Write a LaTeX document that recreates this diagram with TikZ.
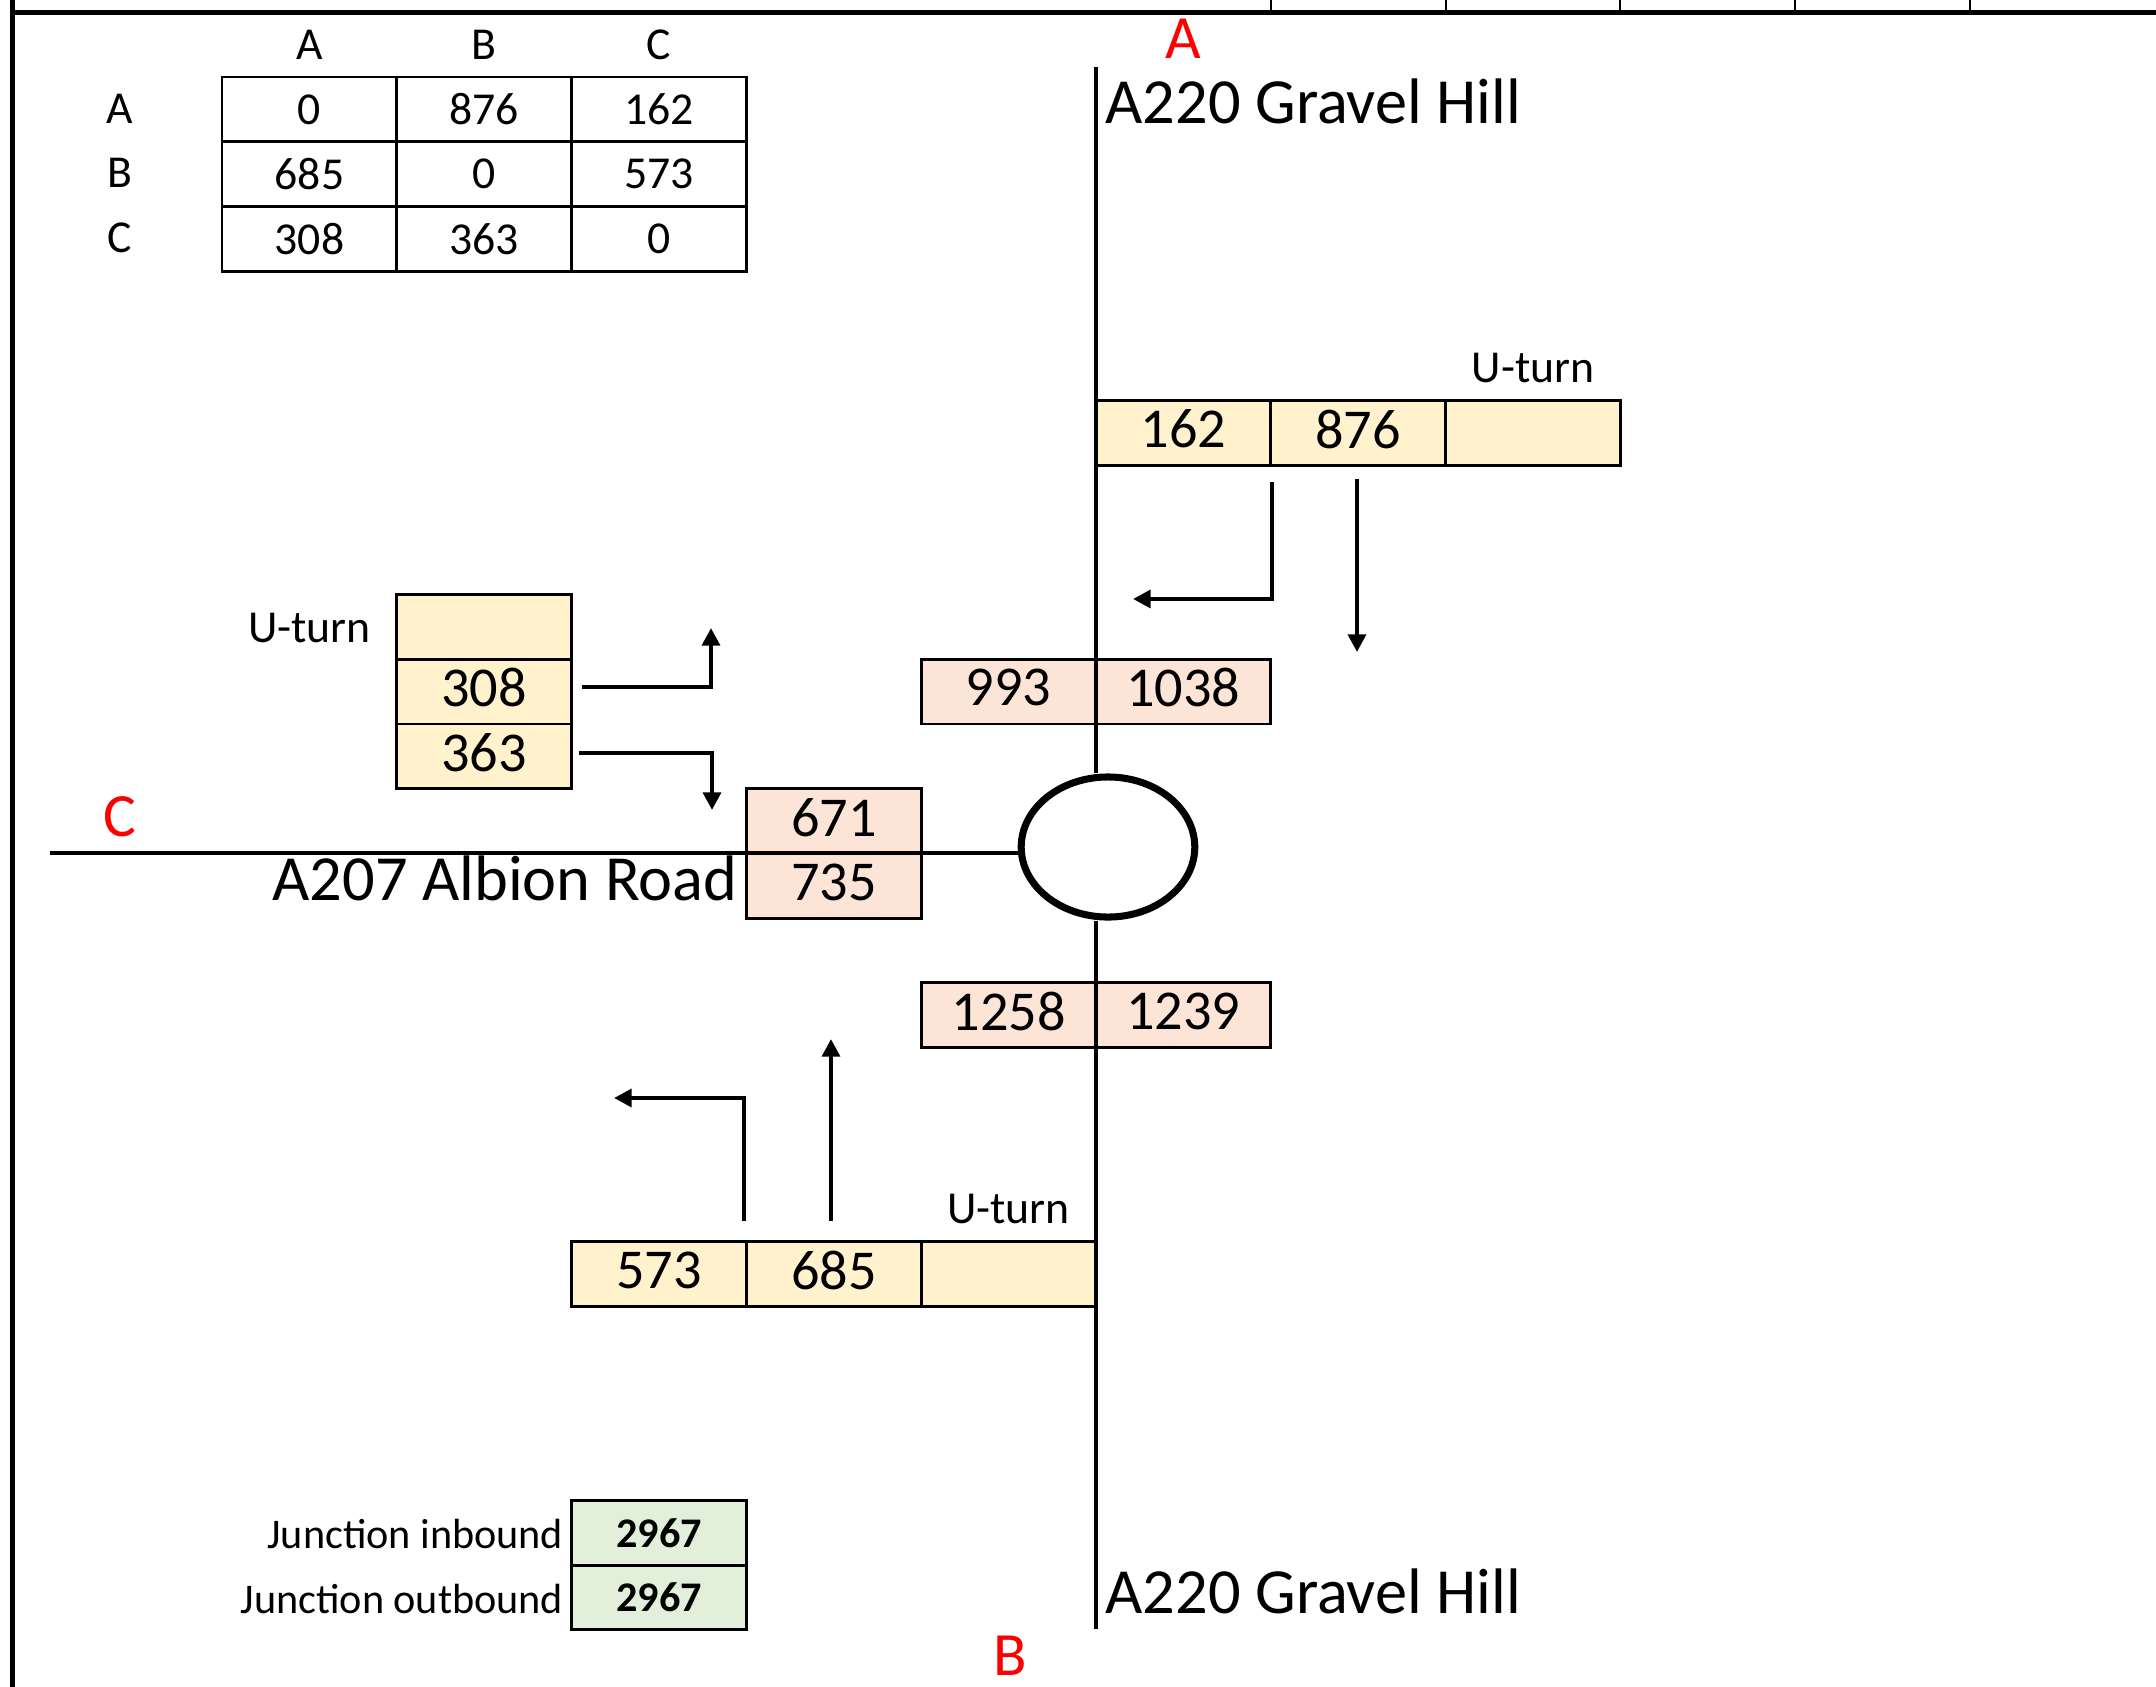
\documentclass[tikz,border=0pt]{standalone}
\usepackage{fontspec}
\setmainfont{Carlito}
\usetikzlibrary{arrows.meta,shapes.geometric}
\definecolor{laneyellow}{HTML}{FFF2CC}
\definecolor{lanepink}{HTML}{FCE4D6}
\definecolor{totalgreen}{HTML}{E2EFDA}

\begin{document}
\begin{tikzpicture}[x=0.01cm,y=-0.01cm,>={Triangle[length=5pt,width=5pt]},
  cell/.style={draw,line width=0.8pt,minimum width=1.748cm,minimum height=0.647cm,inner sep=0pt,font=\fontsize{13}{15}\selectfont},
  lane/.style={cell,fill=laneyellow,text depth=2.3pt,font=\fontsize{16}{19}\selectfont},
  flow/.style={cell,fill=lanepink,text depth=2.3pt,font=\fontsize{16}{19}\selectfont},
  total/.style={cell,fill=totalgreen,font=\fontsize{12}{14}\selectfont\bfseries},
  lbl/.style={inner sep=0pt,anchor=base,font=\fontsize{13}{15}\selectfont},
  road/.style={inner sep=0pt,font=\fontsize{18.3}{21}\selectfont},
  arm/.style={inner sep=0pt,anchor=base,text=red,font=\fontsize{17.5}{21}\selectfont},
  turn/.style={->,line width=1.3pt}]
\useasboundingbox (0,0) rectangle (2156,1687);
% sheet edges
\draw[line width=1.4pt] (12.5,0) -- (12.5,1687);
\draw[line width=1.4pt] (12.5,12.5) -- (2156,12.5);
\draw[line width=0.6pt] (1270.8,0) -- (1270.8,12) (1445.6,0) -- (1445.6,12) (1620.4,0) -- (1620.4,12)
  (1795.2,0) -- (1795.2,12) (1970,0) -- (1970,12);

% origin-destination matrix
\node[lbl] (hA) at (309.4,59) {A};
\node[lbl] (hB) at (484.2,59) {B};
\node[lbl] (hC) at (659,59) {C};
\node[lbl] (rA) at (120,123) {A};
\node[lbl] (rB) at (120,187.7) {B};
\node[lbl] (rC) at (120,252.4) {C};
\node[cell] (mAA) at (309.4,109.4) {0};
\node[cell] (mAB) at (484.2,109.4) {876};
\node[cell] (mAC) at (659,109.4) {162};
\node[cell] (mBA) at (309.4,174.1) {685};
\node[cell] (mBB) at (484.2,174.1) {0};
\node[cell] (mBC) at (659,174.1) {573};
\node[cell] (mCA) at (309.4,238.8) {308};
\node[cell] (mCB) at (484.2,238.8) {363};
\node[cell] (mCC) at (659,238.8) {0};

% arm A
\node[arm] (armA) at (1183,58) {A};
\node[road,anchor=base west] (nameA) at (1105,123) {A220 Gravel Hill};
\node[lbl] (uA) at (1533,382) {U-turn};
\node[lane] (a162) at (1183.4,432.9) {162};
\node[lane] (a876) at (1358.2,432.9) {876};
\node[lane] (aU) at (1533,432.9) {};
\node[flow] (f993) at (1008.6,691.7) {993};
\node[flow] (f1038) at (1183.4,691.7) {1038};

% arm C
\node[lbl] (uC) at (309.4,642) {U-turn};
\node[lane] (cU) at (484.2,627) {};
\node[lane] (c308) at (484.2,691.7) {308};
\node[lane] (c363) at (484.2,756.4) {363};
\node[arm] (armC) at (120,836) {C};
\node[flow] (f671) at (833.8,821.1) {671};
\node[flow] (f735) at (833.8,885.8) {735};
\node[road,anchor=base east] (nameC) at (738,900) {A207 Albion Road};

% arm B
\node[flow] (f1258) at (1008.6,1015.2) {1258};
\node[flow] (f1239) at (1183.4,1015.2) {1239};
\node[lbl] (uB) at (1008.6,1223) {U-turn};
\node[lane] (b573) at (659,1274) {573};
\node[lane] (b685) at (833.8,1274) {685};
\node[lane] (bU) at (1008.6,1274) {};
\node[road,anchor=base west] (nameB) at (1105,1613) {A220 Gravel Hill};
\node[arm] (armB) at (1010,1675) {B};

% totals
\node[total] (tin) at (659,1532.8) {2967};
\node[total] (tout) at (659,1597.5) {2967};
\node[lbl,anchor=base east,font=\fontsize{12}{14}\selectfont] (lin) at (564,1548) {Junction inbound};
\node[lbl,anchor=base east,font=\fontsize{12}{14}\selectfont] (lout) at (564,1613) {Junction outbound};

% roads and roundabout
\node[draw,ellipse,line width=2pt,minimum width=1.735cm,minimum height=1.40cm,inner sep=0pt] (rbt) at (1108,847) {};
\coordinate (gravelN) at (1096,67);
\coordinate (gravelS) at (1096,1629);
\coordinate (albion) at (50,853);
\draw[line width=1.4pt] (gravelN) -- (gravelN |- rbt.north);
\draw[line width=1.4pt] (gravelS) -- (gravelS |- rbt.south);
\draw[line width=1.4pt] (albion) -- (albion -| rbt.west);

% turning movements
\coordinate (a162s) at (1272,482); \coordinate (a162e) at (1133,599);
\coordinate (a876s) at (1357,479); \coordinate (a876e) at (1357,652);
\coordinate (c308s) at (582,687); \coordinate (c308e) at (711,628);
\coordinate (c363s) at (579,753); \coordinate (c363e) at (712,810);
\coordinate (b573s) at (744,1221); \coordinate (b573e) at (614,1098);
\coordinate (b685s) at (831,1221); \coordinate (b685e) at (831,1039);
\draw[turn] (a162s) |- (a162e);
\draw[turn] (a876s) -- (a876e);
\draw[turn] (c308s) -| (c308e);
\draw[turn] (c363s) -| (c363e);
\draw[turn] (b573s) |- (b573e);
\draw[turn] (b685s) -- (b685e);
\end{tikzpicture}
\end{document}
